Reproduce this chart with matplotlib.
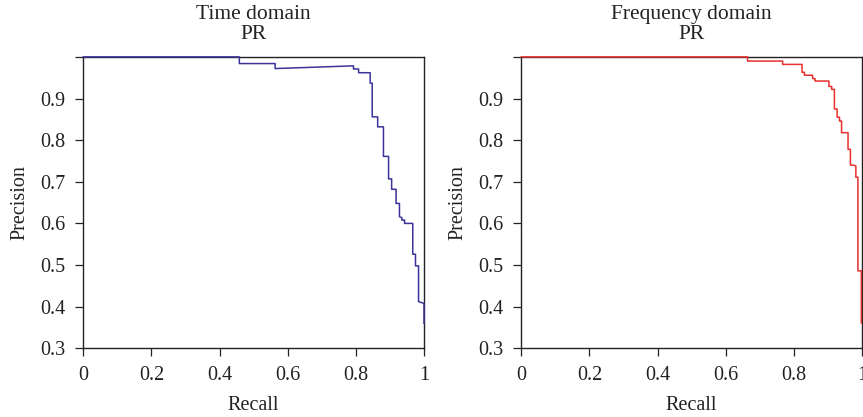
import matplotlib
matplotlib.use("Agg")
import matplotlib.pyplot as plt

plt.rcParams["font.family"] = ["Liberation Serif", "DejaVu Serif"]

# Precision-recall points, time-domain model
time_recall = [0.0, 0.458, 0.458, 0.563, 0.563, 0.793, 0.793, 0.808, 0.808,
               0.842, 0.842, 0.848, 0.848, 0.864, 0.864, 0.881, 0.881, 0.896,
               0.896, 0.905, 0.905, 0.918, 0.918, 0.928, 0.928, 0.935, 0.935,
               0.943, 0.943, 0.967, 0.967, 0.975, 0.975, 0.984, 0.984, 0.994,
               1.0, 1.0]
time_precision = [1.0, 1.0, 0.984, 0.984, 0.972, 0.9785, 0.9710, 0.9710, 0.9620,
                  0.9620, 0.9370, 0.9370, 0.856, 0.856, 0.832, 0.832, 0.761, 0.761,
                  0.707, 0.707, 0.682, 0.682, 0.648, 0.648, 0.616, 0.614, 0.608,
                  0.608, 0.600, 0.600, 0.526, 0.526, 0.498, 0.498, 0.412, 0.4095,
                  0.408, 0.360]

# Precision-recall points, frequency-domain model
freq_recall = [0.0, 0.664, 0.664, 0.767, 0.767, 0.824, 0.824, 0.831, 0.831,
               0.855, 0.855, 0.862, 0.862, 0.903, 0.903, 0.911, 0.911, 0.919,
               0.919, 0.927, 0.927, 0.934, 0.934, 0.940, 0.940, 0.959, 0.959,
               0.966, 0.966, 0.975, 0.982, 0.982, 0.988, 0.988, 0.998, 0.998]
freq_precision = [1.0, 1.0, 0.990, 0.990, 0.982, 0.982, 0.963, 0.963, 0.956,
                  0.956, 0.948, 0.948, 0.942, 0.942, 0.929, 0.929, 0.922, 0.922,
                  0.875, 0.875, 0.855, 0.855, 0.846, 0.846, 0.818, 0.818, 0.778,
                  0.778, 0.740, 0.740, 0.738, 0.711, 0.711, 0.486, 0.486, 0.361]

x_ticks = [0, 0.2, 0.4, 0.6, 0.8, 1.0]
x_tick_labels = ["0", "0.2", "0.4", "0.6", "0.8", "1"]
y_ticks = [0.3, 0.4, 0.5, 0.6, 0.7, 0.8, 0.9, 1.0]
y_tick_labels = ["0.3", "0.4", "0.5", "0.6", "0.7", "0.8", "0.9", ""]

panels = [
    ("Time domain", time_recall, time_precision, "#3b3399"),
    ("Frequency domain", freq_recall, freq_precision, "#e8302c"),
]

W, H = 863, 417
fig = plt.figure(figsize=(W / 100, H / 100), dpi=100)

axes_left_px = [83.3, 521.3]
ax_w_px = 340.7
ax_top_px, ax_bot_px = 56.9, 348.3

for (title, rec, prec, color), left_px in zip(panels, axes_left_px):
    ax = fig.add_axes([left_px / W, 1 - ax_bot_px / H,
                       ax_w_px / W, (ax_bot_px - ax_top_px) / H])
    ax.plot(rec, prec, color=color, lw=1.1, clip_on=False, zorder=3)
    ax.set_xlim(0, 1)
    ax.set_ylim(0.3, 1.0)
    ax.set_xticks(x_ticks)
    ax.set_xticklabels(x_tick_labels)
    ax.set_yticks(y_ticks)
    ax.set_yticklabels(y_tick_labels)
    ax.tick_params(direction="out", length=5.8, width=0.9, labelsize=14.5,
                   color="#222222", labelcolor="#222222", pad=7)
    for sp in ax.spines.values():
        sp.set_linewidth(1.0)
        sp.set_color("#222222")
    ax.set_xlabel("Recall", fontsize=14.5, color="#222222", labelpad=8)
    ax.set_ylabel("Precision", fontsize=14.5, color="#222222", labelpad=8)
    ax.annotate(title, xy=(0.5, 1.0), xycoords="axes fraction",
                xytext=(0, 27.0), textcoords="offset points",
                ha="center", va="baseline", fontsize=15.5, color="#222222")
    ax.annotate("PR", xy=(0.5, 1.0), xycoords="axes fraction",
                xytext=(0, 13.2), textcoords="offset points",
                ha="center", va="baseline", fontsize=15.5, color="#222222")

fig.savefig("out.png", dpi=100)
